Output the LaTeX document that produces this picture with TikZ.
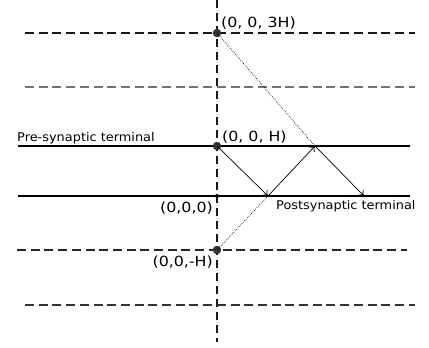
\documentclass[tikz,border=0pt]{standalone}
\usepackage{fontspec}
\newfontfamily\labfont[FakeStretch=1.13]{DejaVu Sans}
\newfontfamily\termfont[FakeStretch=1.075]{DejaVu Sans}
\usetikzlibrary{arrows.meta}
\begin{document}
\begin{tikzpicture}[x=1pt,y=-1pt,
  dashln/.style={line width=1.1pt, dash pattern=on 9pt off 4.7pt},
  vdashln/.style={line width=1.1pt, dash pattern=on 8pt off 5pt},
  solidln/.style={line width=2.2pt},
  ray/.style={line width=0.7pt, -{To[length=5pt,width=8pt]}},
  virt/.style={line width=0.7pt, dash pattern=on 0.7pt off 1.3pt},
  bigdot/.style={circle, fill=black!80, inner sep=0pt, minimum size=8.5pt},
  smalldot/.style={circle, fill=black, inner sep=0pt, minimum size=4pt},
  coordlab/.style={font=\labfont\fontsize{14}{16}\selectfont, inner sep=0pt},
  termlab/.style={font=\termfont\fontsize{12}{14}\selectfont, inner sep=0pt}]
\useasboundingbox (0,0) rectangle (429,348);
% reference points
\coordinate (vt) at (217,0);
\coordinate (vb) at (217,342);
\coordinate (a1) at (25,33);  \coordinate (b1) at (415,33);
\coordinate (a2) at (25,87);  \coordinate (b2) at (415,87);
\coordinate (a3) at (17,250); \coordinate (b3) at (407,250);
\coordinate (a4) at (25,305); \coordinate (b4) at (415,305);
\coordinate (s1) at (18,146); \coordinate (e1) at (410,146);
\coordinate (s2) at (18,196); \coordinate (e2) at (410,196);
\coordinate (p1) at (268,196);
\coordinate (p2) at (315,146);
\coordinate (p3) at (364,196);
% dashed lines
\draw[dashln, black!90] (a1) -- (b1);
\draw[dashln, black!55] (a2) -- (b2);
\draw[dashln, black!85] (a3) -- (b3);
\draw[dashln, black!80] (a4) -- (b4);
% terminals
\draw[solidln] (s1) -- (e1);
\draw[solidln] (s2) -- (e2);
% vertical axis
\draw[vdashln, black!90] (vt) -- (vb);
% points
\node[bigdot] (d3H) at (217,33) {};
\node[bigdot] (dH) at (217,146) {};
\node[smalldot] (d0) at (217,196) {};
\node[bigdot] (dmH) at (217,250) {};
% rays
\draw[ray] (dH.center) -- (p1);
\draw[ray] (p1) -- (p2);
\draw[ray] (p2) -- (p3);
% virtual sources
\draw[virt] (d3H.center) -- (p2);
\draw[virt] (dmH.center) -- (p1);
% labels
\node[coordlab, anchor=base west] (l3H) at (221,27.5) {(0, 0, 3H)};
\node[coordlab, anchor=base west] (lH) at (222,141) {(0, 0, H)};
\node[coordlab, anchor=base east] (l0) at (213,212) {(0,0,0)};
\node[coordlab, anchor=base east] (lmH) at (213,266) {(0,0,-H)};
\node[termlab, anchor=base west] (pre) at (17,141) {Pre-synaptic terminal};
\node[termlab, anchor=base west] (post) at (276,209) {Postsynaptic terminal};
\end{tikzpicture}
\end{document}
